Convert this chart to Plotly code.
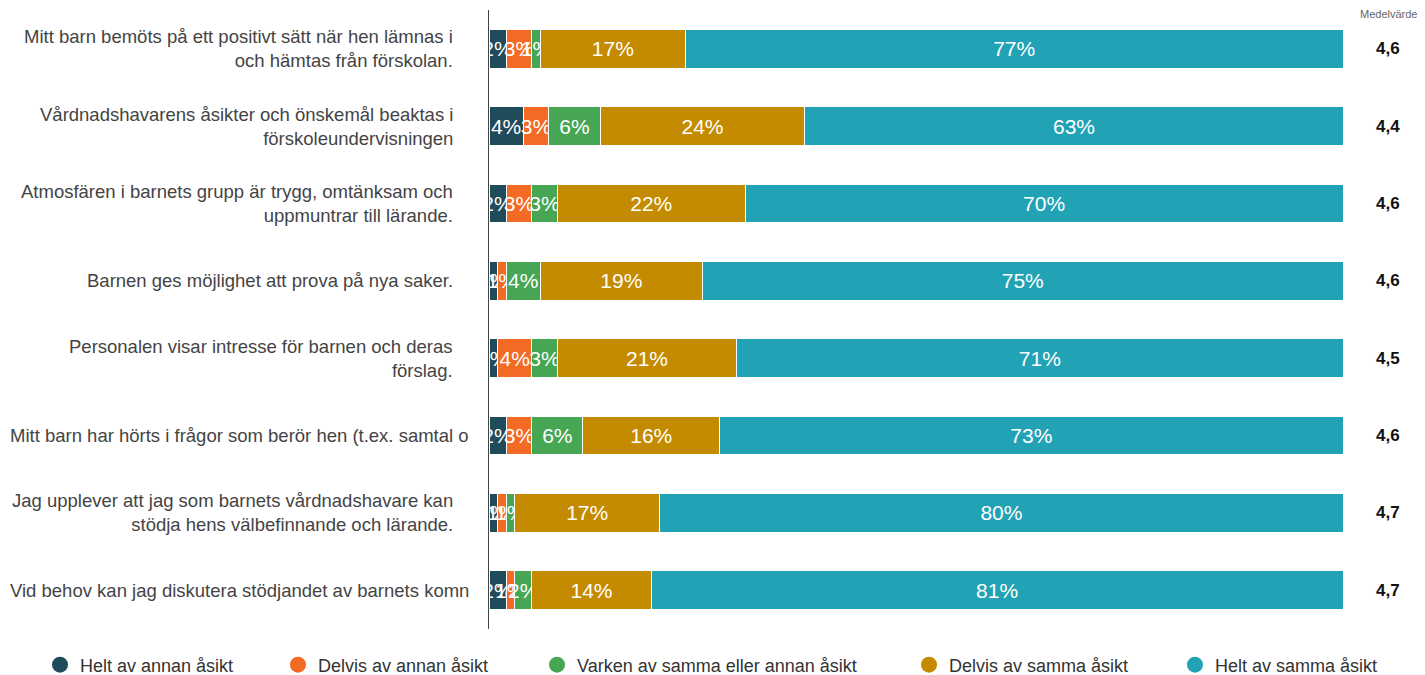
import plotly.graph_objects as go

categories = [
    "Mitt barn bemöts på ett positivt sätt när hen lämnas i<br>och hämtas från förskolan.",
    "Vårdnadshavarens åsikter och önskemål beaktas i<br>förskoleundervisningen",
    "Atmosfären i barnets grupp är trygg, omtänksam och<br>uppmuntrar till lärande.",
    "Barnen ges möjlighet att prova på nya saker.",
    "Personalen visar intresse för barnen och deras<br>förslag.",
    "Mitt barn har hörts i frågor som berör hen (t.ex. samtal o",
    "Jag upplever att jag som barnets vårdnadshavare kan<br>stödja hens välbefinnande och lärande.",
    "Vid behov kan jag diskutera stödjandet av barnets komn",
]
truncated = [False, False, False, False, False, True, False, True]

series_names = [
    "Helt av annan åsikt",
    "Delvis av annan åsikt",
    "Varken av samma eller annan åsikt",
    "Delvis av samma åsikt",
    "Helt av samma åsikt",
]
helt_annan = [2, 4, 2, 1, 1, 2, 1, 2]
delvis_annan = [3, 3, 3, 1, 4, 3, 1, 1]
varken = [1, 6, 3, 4, 3, 6, 1, 2]
delvis_samma = [17, 24, 22, 19, 21, 16, 17, 14]
helt_samma = [77, 63, 70, 75, 71, 73, 80, 81]
means = ["4,6", "4,4", "4,6", "4,6", "4,5", "4,6", "4,7", "4,7"]

colors = ["#1f4b5b", "#f36a25", "#46a653", "#c58b00", "#22a2b5"]
values = [helt_annan, delvis_annan, varken, delvis_samma, helt_samma]

FONT = "Liberation Sans, Arial"
W, H = 1417, 667  # page body has an 8px margin
ids = list(range(len(categories)))

fig = go.Figure()
for name, vals, col in zip(series_names, values, colors):
    fig.add_trace(go.Bar(
        y=ids, x=vals, orientation="h", name=name,
        marker=dict(color=col, line=dict(color="white", width=1)),
        text=[f"{v}%" for v in vals], texttemplate="%{text}",
        textposition="inside", insidetextanchor="middle",
        constraintext="none", textangle=0,
        textfont=dict(color="white", size=21, family=FONT),
        showlegend=False, hoverinfo="skip",
    ))

legend_keys = ["legend", "legend2", "legend3", "legend4", "legend5"]
legend_px = [52, 290, 549, 921, 1187]  # circle centres in figure pixels
for name, col, key in zip(series_names, colors, legend_keys):
    fig.add_trace(go.Scatter(
        x=[None], y=[None], mode="markers", name=name, legend=key,
        marker=dict(color=col, size=16, symbol="circle"),
        showlegend=True,
    ))

annotations = []
for i, (cat, tr) in enumerate(zip(categories, truncated)):
    if tr:
        annotations.append(dict(x=0, xref="paper", y=i, yref="y", text=cat,
                                xanchor="left", xshift=-481, showarrow=False,
                                font=dict(size=18.5, color="#444", family=FONT)))
    else:
        annotations.append(dict(x=0, xref="paper", y=i, yref="y", text=cat,
                                xanchor="right", align="right", xshift=-34, showarrow=False,
                                font=dict(size=18.5, color="#444", family=FONT)))
    annotations.append(dict(x=1, xref="paper", y=i, yref="y", text=f"<b>{means[i]}</b>",
                            xanchor="center", xshift=45, showarrow=False,
                            font=dict(size=17, color="#111", family=FONT)))
annotations.append(dict(x=1, xref="paper", y=1, yref="paper", text="Medelvärde",
                        xanchor="center", yanchor="top", xshift=45, yshift=4, showarrow=False,
                        font=dict(size=11, color="#666", family=FONT)))

legends = {}
for key, px in zip(legend_keys, legend_px):
    legends[key] = dict(orientation="h", xref="container", x=(px - 20) / W, xanchor="left",
                        yref="container", y=1 - 657 / H, yanchor="middle",
                        font=dict(size=18, color="#333", family=FONT),
                        itemsizing="trace", bgcolor="rgba(0,0,0,0)")

fig.update_layout(
    width=W, height=H,
    barmode="stack", bargap=0.5,
    margin=dict(l=481, r=82, t=2, b=46, autoexpand=False),
    plot_bgcolor="white", paper_bgcolor="white",
    font=dict(family=FONT, color="#333"),
    xaxis=dict(range=[0, 100], showgrid=False, showticklabels=False, zeroline=False,
               ticks="", fixedrange=True),
    yaxis=dict(autorange="reversed", showticklabels=False, showgrid=False, zeroline=False,
               showline=True, linecolor="#444", linewidth=1, ticks=""),
    annotations=annotations,
    **legends,
)

fig.write_html("out.html")
